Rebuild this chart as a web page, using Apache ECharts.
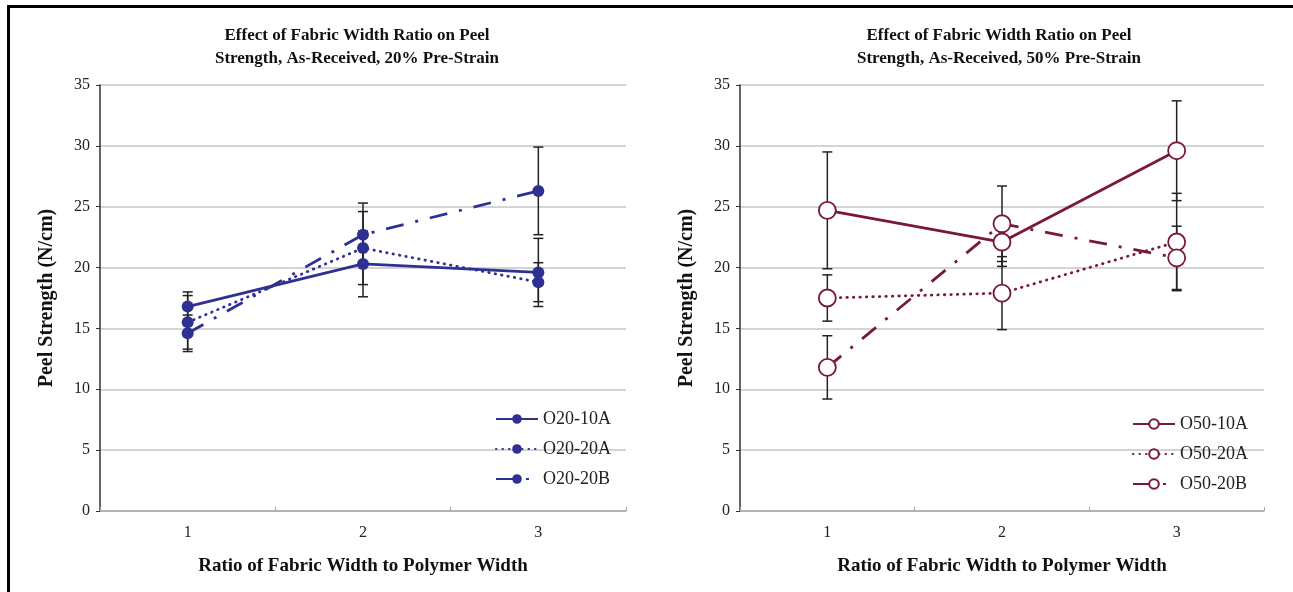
<!DOCTYPE html>
<html>
<head>
<meta charset="utf-8">
<script src="https://cdn.jsdelivr.net/npm/echarts@6/dist/echarts.min.js"></script>
<style>
html,body{margin:0;padding:0;background:#fff;}
#main{width:1293px;height:592px;}
</style>
</head>
<body>
<div id="main"></div>
<script>
// ---- data ----
const categories = ['1', '2', '3'];
const yTicks = [0, 5, 10, 15, 20, 25, 30, 35];

const leftTitle = 'Effect of Fabric Width Ratio on Peel\nStrength, As-Received, 20% Pre-Strain';
const rightTitle = 'Effect of Fabric Width Ratio on Peel\nStrength, As-Received, 50% Pre-Strain';
const xAxisName = 'Ratio of Fabric Width to Polymer Width';
const yAxisName = 'Peel Strength (N/cm)';

const leftNames = ['O20-10A', 'O20-20A', 'O20-20B'];
const o20_10A = [16.8, 20.3, 19.6];
const o20_20A = [15.5, 21.6, 18.8];
const o20_20B = [14.6, 22.7, 26.3];
const o20_10A_err = [1.2, 2.7, 2.8];
const o20_20A_err = [2.2, 3.0, 1.6];
const o20_20B_err = [1.5, 2.6, 3.6];

const rightNames = ['O50-10A', 'O50-20A', 'O50-20B'];
const o50_10A = [24.7, 22.1, 29.6];
const o50_20A = [17.5, 17.9, 22.1];
const o50_20B = [11.8, 23.6, 20.8];
const o50_10A_err = [4.8, 2.0, 4.1];
const o50_20A_err = [1.9, 3.0, 4.0];
const o50_20B_err = [2.6, 3.1, 2.6];

// ---- styles ----
const NAVY = '#2E3192';
const MAROON = '#7A1838';
const SERIF = '"Liberation Serif", "DejaVu Serif", serif';
const lineTypes = ['solid', [0.5, 6], [18, 12, 3, 12]];

function errData(vals, errs) {
  return vals.map((v, i) => [i, v - errs[i], v + errs[i]]);
}

function errSeries(xi, yi, data) {
  return {
    type: 'custom',
    xAxisIndex: xi, yAxisIndex: yi,
    z: 1,
    silent: true,
    data: data,
    renderItem: function (params, api) {
      const x = api.value(0);
      const top = api.coord([x, api.value(2)]);
      const bot = api.coord([x, api.value(1)]);
      const hw = 5;
      const st = { stroke: '#222', lineWidth: 1.5 };
      return {
        type: 'group',
        children: [
          { type: 'line', shape: { x1: top[0], y1: top[1], x2: bot[0], y2: bot[1] }, style: st },
          { type: 'line', shape: { x1: top[0] - hw, y1: top[1], x2: top[0] + hw, y2: top[1] }, style: st },
          { type: 'line', shape: { x1: bot[0] - hw, y1: bot[1], x2: bot[0] + hw, y2: bot[1] }, style: st }
        ]
      };
    }
  };
}

function lineSeries(name, vals, xi, yi, color, typ, hollow) {
  return {
    name: name,
    type: 'line',
    xAxisIndex: xi, yAxisIndex: yi,
    data: vals,
    z: 3,
    symbol: 'circle',
    symbolSize: hollow ? 17 : 12,
    showSymbol: true,
    lineStyle: { color: color, width: 2.8, type: typ, cap: (Array.isArray(typ) && typ.length === 2) ? 'round' : 'butt' },
    itemStyle: hollow ? { color: '#fff', borderColor: color, borderWidth: 1.8 } : { color: color, borderWidth: 0 },
    emphasis: { disabled: true },
    animation: false
  };
}

const yAxisBase = {
  type: 'value', min: 0, max: 35, interval: 5,
  axisLine: { show: true, lineStyle: { color: '#333', width: 1.5 } },
  axisTick: { show: true, length: 4, lineStyle: { color: '#333' } },
  axisLabel: { fontFamily: SERIF, fontSize: 16, color: '#222', margin: 10 },
  splitLine: { lineStyle: { color: '#c6c6c6', width: 1.5 } },
  name: yAxisName,
  nameLocation: 'middle',
  nameGap: 43,
  nameTextStyle: { fontFamily: SERIF, fontSize: 20, fontWeight: 'bold', color: '#111' }
};

const xAxisBase = {
  type: 'category', data: categories, boundaryGap: true,
  axisLine: { show: true, lineStyle: { color: '#a8a8a8', width: 1.5 } },
  axisTick: { show: true, inside: true, length: 4, lineStyle: { color: '#a8a8a8' } },
  axisLabel: { fontFamily: SERIF, fontSize: 16, color: '#222', margin: 14 },
  name: xAxisName,
  nameLocation: 'middle',
  nameGap: 46,
  nameTextStyle: { fontFamily: SERIF, fontSize: 19, fontWeight: 'bold', color: '#111' }
};

const legendText = { fontFamily: SERIF, fontSize: 18, color: '#222' };

const titleText = { fontFamily: SERIF, fontSize: 17, fontWeight: 'bold', color: '#111', lineHeight: 23 };

const option = {
  backgroundColor: '#fff',
  animation: false,
  graphic: [{
    type: 'rect', left: 6, top: 4, silent: true,
    shape: { width: 1300, height: 600 },
    style: { fill: 'none', stroke: '#000', lineWidth: 3 }
  }],
  title: [
    { text: leftTitle, left: 352, top: 19, textAlign: 'center', textStyle: titleText },
    { text: rightTitle, left: 994, top: 19, textAlign: 'center', textStyle: titleText }
  ],
  grid: [
    { left: 100, top: 85, right: 667, bottom: 81 },
    { left: 740, top: 85, right: 29, bottom: 81 }
  ],
  xAxis: [
    Object.assign({}, xAxisBase, { gridIndex: 0 }),
    Object.assign({}, xAxisBase, { gridIndex: 1 })
  ],
  yAxis: [
    Object.assign({}, yAxisBase, { gridIndex: 0 }),
    Object.assign({}, yAxisBase, { gridIndex: 1 })
  ],
  legend: [
    { data: leftNames, orient: 'vertical', left: 490, top: 405, itemWidth: 42, itemHeight: 12, itemGap: 12,
      textStyle: legendText, selectedMode: false },
    { data: rightNames, orient: 'vertical', left: 1127, top: 410, itemWidth: 42, itemHeight: 12, itemGap: 12,
      textStyle: legendText, selectedMode: false }
  ],
  series: [
    errSeries(0, 0, errData(o20_10A, o20_10A_err)),
    errSeries(0, 0, errData(o20_20A, o20_20A_err)),
    errSeries(0, 0, errData(o20_20B, o20_20B_err)),
    errSeries(1, 1, errData(o50_10A, o50_10A_err)),
    errSeries(1, 1, errData(o50_20A, o50_20A_err)),
    errSeries(1, 1, errData(o50_20B, o50_20B_err)),
    lineSeries(leftNames[0], o20_10A, 0, 0, NAVY, lineTypes[0], false),
    lineSeries(leftNames[1], o20_20A, 0, 0, NAVY, lineTypes[1], false),
    lineSeries(leftNames[2], o20_20B, 0, 0, NAVY, lineTypes[2], false),
    lineSeries(rightNames[0], o50_10A, 1, 1, MAROON, lineTypes[0], true),
    lineSeries(rightNames[1], o50_20A, 1, 1, MAROON, lineTypes[1], true),
    lineSeries(rightNames[2], o50_20B, 1, 1, MAROON, lineTypes[2], true)
  ]
};

const chart = echarts.init(document.getElementById('main'), null, { renderer: 'canvas' });
chart.setOption(option);
</script>
</body>
</html>
